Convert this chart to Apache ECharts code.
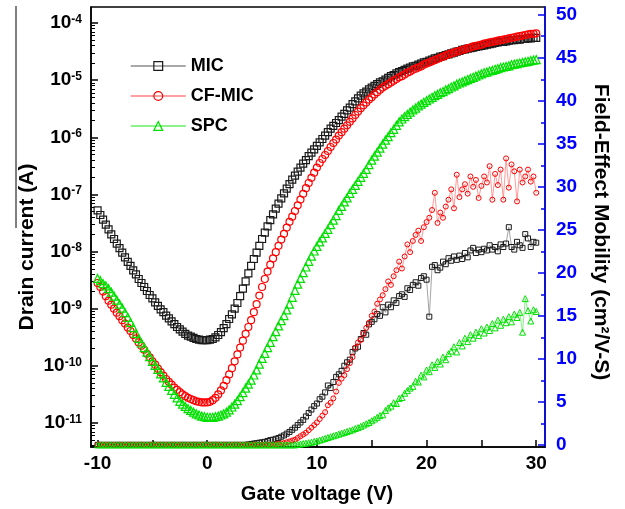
<!DOCTYPE html>
<html>
<head>
<meta charset="utf-8">
<script src="https://cdn.jsdelivr.net/npm/echarts@6/dist/echarts.min.js"></script>
<style>html,body{margin:0;padding:0;background:#fff}#c{width:625px;height:509px}</style>
</head>
<body>
<div id="c"></div>
<script>
// Gate voltage sweep: -10 V to 30 V in 0.25 V steps (161 points)
const gateStart = -10, gateStep = 0.25;

// log10 of drain current (A)
const micLogI = [
-7.28,-7.36,-7.44,-7.53,-7.61,-7.70,-7.78,-7.86,-7.94,-8.02,
-8.10,-8.18,-8.25,-8.33,-8.40,-8.48,-8.55,-8.62,-8.69,-8.76,
-8.82,-8.89,-8.95,-9.01,-9.06,-9.12,-9.17,-9.22,-9.27,-9.32,
-9.36,-9.40,-9.44,-9.47,-9.49,-9.51,-9.53,-9.54,-9.55,-9.55,
-9.55,-9.54,-9.53,-9.50,-9.46,-9.41,-9.34,-9.27,-9.18,-9.10,
-9.00,-8.90,-8.78,-8.65,-8.52,-8.38,-8.25,-8.13,-8.02,-7.90,
-7.78,-7.67,-7.56,-7.45,-7.35,-7.25,-7.16,-7.07,-6.98,-6.90,
-6.82,-6.74,-6.67,-6.60,-6.53,-6.46,-6.40,-6.33,-6.27,-6.21,
-6.15,-6.09,-6.03,-5.97,-5.91,-5.85,-5.80,-5.75,-5.70,-5.64,
-5.59,-5.53,-5.48,-5.42,-5.37,-5.32,-5.27,-5.23,-5.20,-5.16,
-5.13,-5.10,-5.07,-5.04,-5.02,-4.99,-4.96,-4.93,-4.91,-4.88,
-4.86,-4.84,-4.82,-4.80,-4.78,-4.76,-4.75,-4.73,-4.71,-4.69,
-4.68,-4.66,-4.64,-4.62,-4.61,-4.59,-4.58,-4.56,-4.55,-4.53,
-4.52,-4.50,-4.49,-4.47,-4.46,-4.45,-4.44,-4.43,-4.42,-4.41,
-4.40,-4.39,-4.38,-4.37,-4.36,-4.35,-4.34,-4.33,-4.33,-4.32,
-4.31,-4.30,-4.30,-4.29,-4.29,-4.28,-4.28,-4.27,-4.27,-4.26,
-4.26];
const cfmicLogI = [
-8.55,-8.62,-8.70,-8.78,-8.86,-8.93,-9.00,-9.07,-9.13,-9.20,
-9.26,-9.33,-9.39,-9.46,-9.52,-9.59,-9.65,-9.72,-9.79,-9.85,
-9.92,-9.98,-10.05,-10.11,-10.17,-10.23,-10.28,-10.33,-10.38,-10.42,
-10.46,-10.50,-10.53,-10.56,-10.58,-10.60,-10.62,-10.63,-10.64,-10.64,
-10.64,-10.63,-10.60,-10.56,-10.50,-10.43,-10.35,-10.25,-10.15,-10.04,
-9.92,-9.80,-9.68,-9.56,-9.44,-9.32,-9.20,-9.06,-8.92,-8.77,
-8.62,-8.48,-8.35,-8.23,-8.12,-8.01,-7.90,-7.79,-7.69,-7.58,
-7.48,-7.39,-7.29,-7.19,-7.09,-6.99,-6.89,-6.80,-6.71,-6.62,
-6.53,-6.45,-6.38,-6.31,-6.24,-6.17,-6.10,-6.04,-5.97,-5.91,
-5.85,-5.79,-5.73,-5.67,-5.61,-5.55,-5.49,-5.44,-5.39,-5.34,
-5.30,-5.25,-5.21,-5.17,-5.13,-5.10,-5.07,-5.04,-5.01,-4.98,
-4.95,-4.93,-4.90,-4.87,-4.85,-4.82,-4.80,-4.78,-4.76,-4.73,
-4.71,-4.69,-4.67,-4.65,-4.63,-4.61,-4.59,-4.57,-4.55,-4.53,
-4.52,-4.50,-4.49,-4.47,-4.46,-4.44,-4.43,-4.41,-4.40,-4.39,
-4.38,-4.36,-4.35,-4.34,-4.33,-4.32,-4.31,-4.30,-4.29,-4.28,
-4.27,-4.26,-4.25,-4.24,-4.23,-4.22,-4.21,-4.20,-4.19,-4.19,
-4.18];
const spcLogI = [
-8.47,-8.51,-8.56,-8.60,-8.65,-8.71,-8.78,-8.85,-8.92,-8.99,
-9.07,-9.15,-9.24,-9.33,-9.43,-9.52,-9.60,-9.68,-9.76,-9.84,
-9.92,-9.99,-10.06,-10.14,-10.21,-10.29,-10.36,-10.43,-10.50,-10.56,
-10.62,-10.67,-10.71,-10.75,-10.78,-10.81,-10.84,-10.86,-10.88,-10.89,
-10.90,-10.90,-10.90,-10.89,-10.88,-10.86,-10.84,-10.81,-10.77,-10.72,
-10.67,-10.61,-10.54,-10.47,-10.39,-10.32,-10.25,-10.16,-10.07,-9.97,
-9.87,-9.78,-9.68,-9.59,-9.49,-9.40,-9.30,-9.21,-9.12,-9.02,
-8.92,-8.80,-8.68,-8.57,-8.47,-8.37,-8.27,-8.17,-8.08,-7.99,
-7.91,-7.83,-7.76,-7.68,-7.61,-7.53,-7.45,-7.37,-7.28,-7.21,
-7.13,-7.06,-6.98,-6.91,-6.84,-6.77,-6.70,-6.63,-6.56,-6.48,
-6.40,-6.33,-6.26,-6.19,-6.12,-6.05,-5.99,-5.92,-5.86,-5.79,
-5.73,-5.68,-5.64,-5.60,-5.56,-5.52,-5.49,-5.45,-5.42,-5.39,
-5.36,-5.33,-5.30,-5.27,-5.25,-5.22,-5.20,-5.17,-5.15,-5.12,
-5.10,-5.07,-5.05,-5.03,-5.01,-4.99,-4.97,-4.95,-4.93,-4.91,
-4.89,-4.87,-4.86,-4.84,-4.83,-4.81,-4.80,-4.78,-4.77,-4.76,
-4.75,-4.73,-4.72,-4.71,-4.70,-4.69,-4.68,-4.67,-4.66,-4.65,
-4.64];

// Field-effect mobility (cm^2/V-S)
const micMobility = [
0,0,0,0,0,0,0,0,0,0,
0,0,0,0,0,0,0,0,0,0,
0,0,0,0,0,0,0,0,0,0,
0,0,0,0,0,0,0,0,0,0,
0,0,0,0,0,0,0,0,0,0,
0,0,0,0,0,0.05,0.1,0.15,0.2,0.25,
0.3,0.35,0.45,0.55,0.6,0.7,0.8,0.95,1.1,1.3,
1.5,1.75,2.0,2.3,2.6,2.9,3.3,3.7,4.1,4.5,
4.8,5.3,5.6,6.1,6.9,6.6,7.3,7.9,8.2,8.6,
9.2,9.6,9.9,10.8,11.2,11.4,12.3,13.0,12.8,14.0,
14.3,14.6,15.2,15.0,16.0,15.4,16.3,16.0,16.8,16.5,
17.3,17.5,17.2,18.2,18.0,18.6,18.9,18.5,19.4,19.6,
19.2,14.9,20.7,20.9,20.3,20.6,21.3,21.0,21.7,21.4,
21.9,21.5,22.0,21.6,22.3,21.8,22.6,22.9,22.3,22.7,
22.4,22.8,22.6,23.2,22.7,23.0,22.5,23.3,23.0,23.4,
25.3,23.0,22.7,23.6,23.2,22.9,24.5,24.0,23.0,23.6,
23.5];
const cfmicMobility = [
0,0,0,0,0,0,0,0,0,0,
0,0,0,0,0,0,0,0,0,0,
0,0,0,0,0,0,0,0,0,0,
0,0,0,0,0,0,0,0,0,0,
0,0,0,0,0,0,0,0,0,0,
0,0,0,0,0,0,0,0,0,0,
0,0,0,0,0,0.05,0.1,0.15,0.2,0.3,
0.4,0.5,0.6,0.8,1.0,1.2,1.4,1.7,2.0,2.3,
2.6,3.0,3.4,3.8,4.6,4.9,5.4,6.2,7.2,7.7,
8.1,8.8,9.5,10.2,11.3,11.9,12.2,12.9,13.6,14.2,
15.0,15.5,16.4,16.9,17.4,18.1,19.0,18.6,19.6,20.3,
21.3,20.5,21.9,23.3,22.4,23.7,24.4,24.9,23.7,25.3,
25.9,26.4,27.3,29.3,25.8,27.0,26.4,27.7,28.5,29.7,
27.5,31.4,28.8,29.7,30.3,29.2,31.2,30.0,30.8,28.7,
30.1,31.2,30.5,32.4,28.5,31.5,30.2,32.0,28.5,33.3,
29.9,32.6,31.8,28.3,32.0,30.5,31.2,32.0,30.6,31.2,
29.3];
const spcMobility = [
0,0,0,0,0,0,0,0,0,0,
0,0,0,0,0,0,0,0,0,0,
0,0,0,0,0,0,0,0,0,0,
0,0,0,0,0,0,0,0,0,0,
0,0,0,0,0,0,0,0,0,0,
0,0,0,0,0,0,0,0,0,0,
0,0,0,0,0,0,0,0,0,0,
0,0,0,0.05,0.1,0.15,0.2,0.25,0.3,0.4,
0.45,0.55,0.65,0.75,0.85,0.95,1.05,1.15,1.25,1.35,
1.45,1.55,1.65,1.75,1.9,2.0,2.15,2.3,2.45,2.6,
2.8,3.0,3.2,3.4,3.5,4.0,4.3,4.5,4.9,4.8,
5.4,5.5,6.0,6.3,6.6,6.8,7.4,7.3,8.1,7.9,
8.7,8.5,9.3,9.0,9.7,9.4,10.2,9.9,10.6,10.9,
11.4,10.8,11.9,11.5,12.4,12.0,12.8,12.4,13.1,12.7,
13.5,13.0,13.7,13.3,14.1,13.6,14.5,13.9,14.6,14.2,
14.9,14.3,15.2,14.8,15.4,13.1,17.0,15.6,14.4,15.7,
15.5];

// Axis ticks / labels
const xTickValues = [-10, -5, 0, 5, 10, 15, 20, 25, 30];
const xLabelValues = [-10, 0, 10, 20, 30];
const logDecades = [-11, -10, -9, -8, -7, -6, -5, -4];
const mobilityTicks = [0, 5, 10, 15, 20, 25, 30, 35, 40, 45, 50];
const mobilityMinorTicks = [2.5, 7.5, 12.5, 17.5, 22.5, 27.5, 32.5, 37.5, 42.5, 47.5];

const logMin = -11.42, logMax = -3.72;
const mobMin = -0.25, mobMax = 50.9;

const logMinorTicks = [];
for (let n = -12; n <= -4; n++) {
  for (let k = 2; k <= 9; k++) {
    const v = n + Math.log10(k);
    if (v > logMin && v < logMax) logMinorTicks.push(v);
  }
}

function pairs(arr) {
  return arr.map((v, i) => [gateStart + i * gateStep, v]);
}

const FONT = "'Liberation Sans', Arial, sans-serif";
const BLUE = '#0000ff';

const chart = echarts.init(document.getElementById('c'), null, {renderer: 'canvas'});

function ivSeries(name, data, symbol, size, color, lineColor) {
  return {
    name, type: 'line', data: pairs(data), yAxisIndex: 0,
    symbol, symbolSize: size, showAllSymbol: true,
    itemStyle: {color: 'transparent', borderColor: color, borderWidth: 1.2},
    lineStyle: {color: lineColor, width: 1, opacity: 0},
    emphasis: {disabled: true}, z: 3
  };
}
function mobSeries(name, data, symbol, size, color, lineColor) {
  return {
    name, type: 'line', data: pairs(data), yAxisIndex: 2,
    symbol, symbolSize: size, showAllSymbol: true,
    itemStyle: {color: 'transparent', borderColor: color, borderWidth: 1},
    lineStyle: {color: lineColor, width: 0.8},
    emphasis: {disabled: true}, z: 3
  };
}

const option = {
  animation: false,
  backgroundColor: '#fff',
  textStyle: {fontFamily: FONT},
  grid: {left: 91, right: 80, top: 7, bottom: 62, show: true, borderColor: '#000', borderWidth: 1.5},
  legend: {
    data: ['MIC', 'CF-MIC', 'SPC'],
    orient: 'vertical', left: 130, top: 56, padding: 0,
    itemWidth: 55, itemHeight: 11, itemGap: 10,
    textStyle: {fontSize: 18, fontWeight: 'bold', color: '#000', fontFamily: FONT, lineHeight: 20},
    itemStyle: {borderWidth: 1.2},
    lineStyle: {opacity: 1, width: 1.5},
    selectedMode: false
  },
  xAxis: {
    type: 'value', min: -10.6, max: 30.8,
    axisLine: {onZero: false, lineStyle: {color: '#000', width: 1.5}},
    axisTick: {inside: true, length: 7, customValues: xTickValues, lineStyle: {color: '#000', width: 1.5}},
    axisLabel: {customValues: xLabelValues, margin: 7, color: '#000', fontSize: 19, fontWeight: 'bold', fontFamily: FONT},
    splitLine: {show: false}
  },
  yAxis: [
    {
      type: 'value', position: 'left', min: logMin, max: logMax,
      axisLine: {show: true, onZero: false, lineStyle: {color: '#000', width: 1.5}},
      axisTick: {inside: true, length: 7, customValues: logDecades, lineStyle: {color: '#000', width: 1.5}},
      axisLabel: {
        customValues: logDecades, margin: 9,
        formatter: v => '{b|10}{s|' + Math.round(v) + '}',
        rich: {
          b: {fontSize: 19, fontWeight: 'bold', color: '#000', fontFamily: FONT},
          s: {fontSize: 12, fontWeight: 'bold', color: '#000', fontFamily: FONT, verticalAlign: 'top'}
        }
      },
      splitLine: {show: false}
    },
    {
      type: 'value', position: 'left', min: logMin, max: logMax,
      axisLine: {show: false, onZero: false},
      axisTick: {inside: true, length: 4, customValues: logMinorTicks, lineStyle: {color: '#000', width: 1}},
      axisLabel: {show: false},
      splitLine: {show: false}
    },
    {
      type: 'value', position: 'right', min: mobMin, max: mobMax,
      axisLine: {show: true, onZero: false, lineStyle: {color: BLUE, width: 1.5}},
      axisTick: {inside: true, length: 7, customValues: mobilityTicks, lineStyle: {color: BLUE, width: 1.5}},
      axisLabel: {customValues: mobilityTicks, margin: 11, color: BLUE, fontSize: 19, fontWeight: 'bold', fontFamily: FONT},
      splitLine: {show: false}
    },
    {
      type: 'value', position: 'right', min: mobMin, max: mobMax,
      axisLine: {show: false, onZero: false},
      axisTick: {inside: true, length: 4, customValues: mobilityMinorTicks, lineStyle: {color: BLUE, width: 1.5}},
      axisLabel: {show: false},
      splitLine: {show: false}
    }
  ],
  graphic: [
    {type: 'text', x: 27, y: 247, rotation: Math.PI / 2,
     style: {text: 'Drain current (A)', align: 'center', verticalAlign: 'middle', textAlign: 'center', textVerticalAlign: 'middle', fill: '#000', font: "bold 21px " + FONT}},
    {type: 'line', shape: {x1: 16, y1: 6, x2: 16, y2: 228}, style: {stroke: '#000', lineWidth: 1}},
    {type: 'text', x: 601, y: 232, rotation: -Math.PI / 2,
     style: {text: 'Field-Effect Mobility (cm\u00B2/V-S)', align: 'center', verticalAlign: 'middle', textAlign: 'center', textVerticalAlign: 'middle', fill: '#000', font: "bold 21px " + FONT}},
    {type: 'text', x: 317, y: 494,
     style: {text: 'Gate voltage (V)', align: 'center', verticalAlign: 'middle', textAlign: 'center', textVerticalAlign: 'middle', fill: '#000', font: "bold 20px " + FONT}}
  ],
  series: [
    ivSeries('MIC', micLogI, 'rect', 7, '#1a1a1a', '#8c8c8c'),
    ivSeries('CF-MIC', cfmicLogI, 'circle', 7, '#ff0000', '#ff8080'),
    ivSeries('SPC', spcLogI, 'triangle', 8, '#00e000', '#66ee66'),
    mobSeries('MIC mobility', micMobility, 'rect', 5, '#1a1a1a', '#8c8c8c'),
    mobSeries('CF-MIC mobility', cfmicMobility, 'circle', 5, '#ff0000', '#ff8080'),
    mobSeries('SPC mobility', spcMobility, 'triangle', 6, '#00e000', '#66ee66')
  ]
};
chart.setOption(option);
</script>
</body>
</html>
